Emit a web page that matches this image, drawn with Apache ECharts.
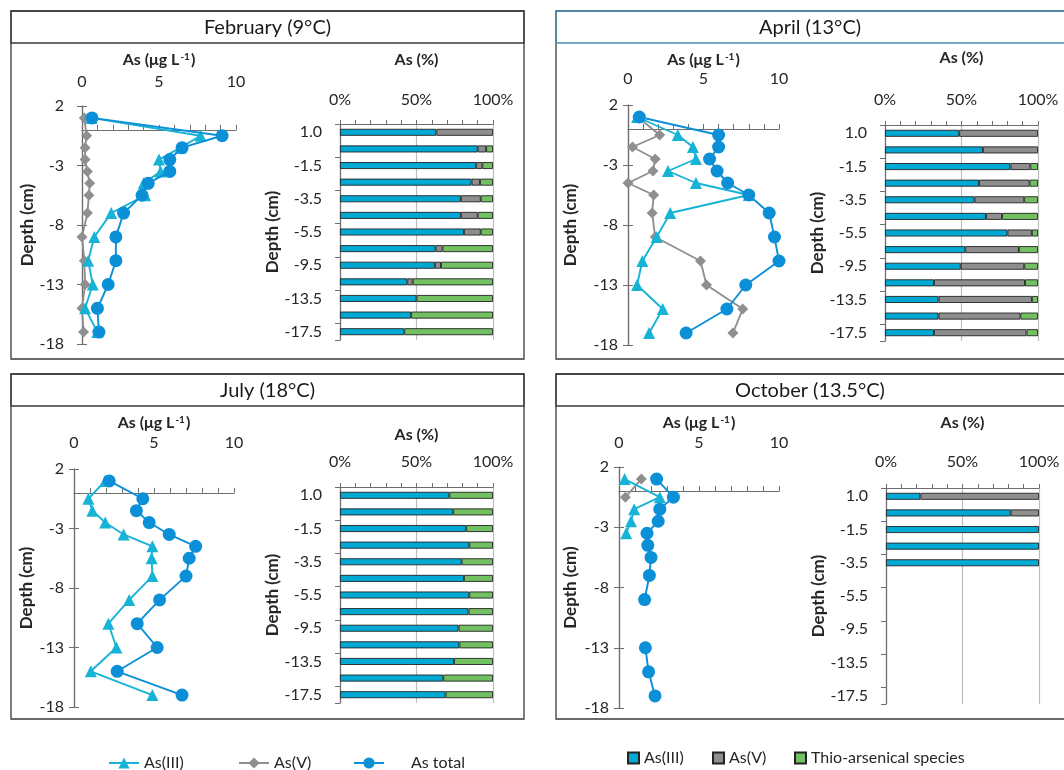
<!DOCTYPE html>
<html>
<head>
<meta charset="utf-8">
<script src="https://cdn.jsdelivr.net/npm/echarts@6/dist/echarts.min.js"></script>
<style>
  html, body { margin: 0; padding: 0; background: #ffffff; }
  #chart { width: 1064px; height: 770px; }
</style>
</head>
<body>
<div id="chart"></div>
<script>
// Sampling depths (cm) of the dissolved-As profiles
const depths = [1, -0.5, -1.5, -2.5, -3.5, -4.5, -5.5, -7, -9, -11, -13, -15, -17];
// Depth classes of the speciation bars
const depthClasses = ['1.0', '-0.5', '-1.5', '-2.5', '-3.5', '-4.5', '-5.5', '-7.5', '-9.5', '-11.5', '-13.5', '-15.5', '-17.5'];
const depthTicks = [-18, -13, -8, -3, 2];
const concTicks = [0, 5, 10];
const pctTicks = [0, 50, 100];

const titles = ['February (9°C)', 'April (13°C)', 'July (18°C)', 'October (13.5°C)'];

// February – concentrations (µg L-1)
const febAsIII  = [0.6, 7.7, 6.4, 5.0, 5.1, 4.0, 4.1, 1.9, 0.8, 0.4, 0.7, 0.2, 1.0];
const febAsV    = [0.15, 0.3, 0.2, 0.2, 0.35, 0.5, 0.45, 0.35, 0.0, 0.15, 0.2, 0.0, 0.1];
const febAsTot  = [0.65, 9.1, 6.5, 5.7, 5.7, 4.3, 3.9, 2.7, 2.2, 2.2, 1.7, 1.0, 1.1];
// February – speciation (%)
const febPctIII  = [63, 90, 89, 86, 79, 79, 81, 62.5, 62, 44, 50, 46.5, 42];
const febPctV    = [37, 5.5, 4, 5.5, 13, 11, 11, 4.5, 4, 3.5, null, null, null];
const febPctThio = [null, 4.5, 7, 8.5, 8, 10, 8, 33, 34, 52.5, 50, 53.5, 58];

// April – concentrations (µg L-1)
const aprAsIII  = [0.6, 3.3, 4.3, 4.5, 2.65, 4.5, 8.0, 2.8, 1.9, 0.95, 0.6, 2.3, 1.4];
const aprAsV    = [0.65, 2.1, 0.3, 1.8, 1.65, 0.0, 1.7, 1.6, 1.8, 4.8, 5.2, 7.6, 6.95];
const aprAsTot  = [0.75, 6.0, 6.0, 5.4, 5.9, 6.6, 8.0, 9.35, 9.7, 10.0, 7.8, 6.55, 3.85];
// April – speciation (%)
const aprPctIII  = [48.5, 64, 82, 61.5, 58.5, 66, 80, 52.5, 49.5, 32, 35, 35, 32];
const aprPctV    = [51.5, 36, 13, 33, 32.5, 10.5, 16, 35, 41.5, 59.5, 61, 53.5, 60.5];
const aprPctThio = [null, null, 5, 5.5, 9, 23.5, 4, 12.5, 9, 8.5, 4, 11.5, 7.5];

// July – concentrations (µg L-1)
const julAsIII  = [1.95, 0.9, 1.15, 1.95, 3.1, 4.9, 4.85, 4.9, 3.45, 2.15, 2.65, 1.05, 4.9];
const julAsTot  = [2.2, 4.3, 3.9, 4.7, 5.95, 7.6, 7.2, 7.0, 5.35, 3.95, 5.2, 2.7, 6.75];
// July – speciation (%)
const julPctIII  = [71.5, 74, 82.5, 84.5, 79.5, 81, 84.5, 84, 77.5, 78, 74.5, 67.5, 69];
const julPctThio = [28.5, 26, 17.5, 15.5, 20.5, 19, 15.5, 16, 22.5, 22, 25.5, 32.5, 31];

// October – concentrations (µg L-1)
const octAsIII  = [0.35, 2.55, 0.95, 0.75, 0.45, null, null, null, null, null, null, null, null];
const octAsV    = [1.4, 0.4, null, null, null, null, null, null, null, null, null, null, null];
const octAsTot  = [2.35, 3.4, 2.55, 2.45, 1.75, 1.8, 2.0, 1.9, 1.6, null, 1.65, 1.85, 2.25];
// October – speciation (%)
const octPctIII  = [22.5, 81.5, 100, 100, 100, null, null, null, null, null, null, null, null];
const octPctV    = [77.5, 18.5, null, null, null, null, null, null, null, null, null, null, null];

const FONT = 'Lato, "Open Sans", "DejaVu Sans", sans-serif';
const TXT = '#262626';
const AXIS = '#6e6e6e';
const C_III_LINE = '#17b3d6';
const C_TOT_LINE = '#0b8fd6';
const C_V_LINE = '#8f8f8f';
const C_III_BAR = '#00a9d4';
const C_V_BAR = '#8e8e8e';
const C_THIO_BAR = '#72c062';

const panels = [
  {
    title: titles[0], conc: { iii: febAsIII, v: febAsV, tot: febAsTot },
    pct: { iii: febPctIII, v: febPctV, thio: febPctThio },
    box: { x: 11, y: 11, w: 513, h: 348, sep: 43 }, titleStroke: '#3a3a3a',
    line: { left: 82, top: 106, width: 154, height: 238, nameGap: 38, labelMargin: 16, yNameGap: 46, yLabelMargin: 18 },
    bar: { left: 340, top: 124, width: 153, height: 216, nameGap: 56, labelMargin: 16, yNameGap: 55 }
  },
  {
    title: titles[1], conc: { iii: aprAsIII, v: aprAsV, tot: aprAsTot },
    pct: { iii: aprPctIII, v: aprPctV, thio: aprPctThio },
    box: { x: 556, y: 11, w: 520, h: 348, sep: 43 }, titleStroke: '#4a8fb5',
    line: { left: 628, top: 105, width: 151, height: 240, nameGap: 37, labelMargin: 18, yNameGap: 49, yLabelMargin: 10 },
    bar: { left: 885, top: 125, width: 153, height: 216, nameGap: 59, labelMargin: 17, yNameGap: 54 }
  },
  {
    title: titles[2], conc: { iii: julAsIII, v: null, tot: julAsTot },
    pct: { iii: julPctIII, v: null, thio: julPctThio },
    box: { x: 11, y: 374, w: 513, h: 345, sep: 406 }, titleStroke: '#3a3a3a',
    line: { left: 74, top: 469, width: 160, height: 238, nameGap: 38, labelMargin: 18, yNameGap: 39, yLabelMargin: 10 },
    bar: { left: 340, top: 487, width: 153, height: 216, nameGap: 44, labelMargin: 17, yNameGap: 55 }
  },
  {
    title: titles[3], conc: { iii: octAsIII, v: octAsV, tot: octAsTot },
    pct: { iii: octPctIII, v: octPctV, thio: null },
    box: { x: 556, y: 374, w: 520, h: 345, sep: 406 }, titleStroke: '#3a3a3a',
    line: { left: 619, top: 467, width: 160, height: 241, nameGap: 36, labelMargin: 16, yNameGap: 40, yLabelMargin: 10 },
    bar: { left: 886, top: 488, width: 153, height: 216, nameGap: 57, labelMargin: 18, yNameGap: 55 }
  }
];

const nameRich = {
  a: { fontSize: 16, fontWeight: 'bold', color: TXT, fontFamily: FONT },
  s: { fontSize: 10, fontWeight: 'bold', color: TXT, fontFamily: FONT, verticalAlign: 'top', padding: [0, 1, 0, 1] }
};

const toPoints = (vals) => depths.map((d, k) => [vals[k] === null ? null : vals[k], d]);

const option = {
  animation: false,
  backgroundColor: '#ffffff',
  textStyle: { fontFamily: FONT },
  grid: [], xAxis: [], yAxis: [], series: [], legend: [], graphic: []
};

panels.forEach((p) => {
  // frame and title strip
  option.graphic.push({
    type: 'rect', silent: true, z: 0,
    shape: { x: p.box.x, y: p.box.y, width: p.box.w, height: p.box.h },
    style: { fill: 'none', stroke: '#3a3a3a', lineWidth: 1.3 }
  });
  option.graphic.push({
    type: 'rect', silent: true, z: 1,
    shape: { x: p.box.x, y: p.box.y, width: p.box.w, height: p.box.sep - p.box.y },
    style: { fill: 'none', stroke: p.titleStroke, lineWidth: 1.3 }
  });
  const cx = p.box.x + (Math.min(p.box.x + p.box.w, 1070) - p.box.x) / 2 - (p.box.w > 515 ? 3 : 0);
  option.graphic.push({
    type: 'text', silent: true, z: 2,
    style: {
      text: p.title, x: cx, y: (p.box.y + p.box.sep) / 2 + 1,
      align: 'center', verticalAlign: 'middle', textAlign: 'center', textVerticalAlign: 'middle',
      fontSize: 20, fontFamily: FONT, fill: '#1a1a1a'
    }
  });

  // ---- concentration profile ----
  const gL = option.grid.length;
  option.grid.push({ left: p.line.left, top: p.line.top, width: p.line.width, height: p.line.height });
  const xL = option.xAxis.length;
  option.xAxis.push({
    gridIndex: gL, type: 'value', position: 'top',
    min: concTicks[0], max: concTicks[concTicks.length - 1], interval: concTicks[1] - concTicks[0],
    axisLine: { show: false, onZero: false }, axisTick: { show: false }, splitLine: { show: false },
    axisLabel: { color: TXT, fontSize: 16, margin: p.line.labelMargin },
    name: '{a|As (μg L}{s|-1}{a|)}', nameLocation: 'middle', nameGap: p.line.nameGap,
    nameTextStyle: { rich: nameRich }
  });
  option.xAxis.push({
    gridIndex: gL, type: 'value', position: 'bottom',
    min: concTicks[0], max: concTicks[concTicks.length - 1], interval: 1,
    axisLine: { show: true, onZero: true, lineStyle: { color: AXIS, width: 1.2 } },
    axisTick: { show: true, inside: true, length: 5, lineStyle: { color: AXIS } },
    axisLabel: { show: false }, splitLine: { show: false }
  });
  const yL = option.yAxis.length;
  option.yAxis.push({
    gridIndex: gL, type: 'value', position: 'left',
    min: depthTicks[0], max: depthTicks[depthTicks.length - 1],
    axisLine: { show: true, onZero: false, lineStyle: { color: AXIS, width: 1.2 } },
    axisTick: { show: true, length: 5, customValues: depthTicks, lineStyle: { color: AXIS } },
    axisLabel: { customValues: depthTicks, color: TXT, fontSize: 16, margin: p.line.yLabelMargin },
    splitLine: { show: false },
    name: 'Depth (cm)', nameLocation: 'middle', nameGap: p.line.yNameGap,
    nameTextStyle: { fontWeight: 'bold', fontSize: 17, color: TXT, fontFamily: FONT }
  });
  option.yAxis.push({
    gridIndex: gL, type: 'value', position: 'right',
    min: depthTicks[0], max: depthTicks[depthTicks.length - 1],
    axisLine: { show: true, onZero: true, lineStyle: { color: AXIS, width: 1.2 } },
    axisTick: { show: true, length: 5, customValues: depthTicks, lineStyle: { color: AXIS } },
    axisLabel: { show: false }, splitLine: { show: false }
  });

  if (p.conc.v) {
    option.series.push({
      type: 'line', name: 'As(V)', xAxisIndex: xL, yAxisIndex: yL, data: toPoints(p.conc.v),
      symbol: 'diamond', symbolSize: 11, z: 3,
      lineStyle: { color: C_V_LINE, width: 1.9 }, itemStyle: { color: C_V_LINE }
    });
  }
  option.series.push({
    type: 'line', name: 'As(III)', xAxisIndex: xL, yAxisIndex: yL, data: toPoints(p.conc.iii),
    symbol: 'triangle', symbolSize: 12, z: 4,
    lineStyle: { color: C_III_LINE, width: 1.9 }, itemStyle: { color: C_III_LINE }
  });
  option.series.push({
    type: 'line', name: 'As total', xAxisIndex: xL, yAxisIndex: yL, data: toPoints(p.conc.tot),
    symbol: 'circle', symbolSize: 13, z: 5,
    lineStyle: { color: C_TOT_LINE, width: 1.9 }, itemStyle: { color: C_TOT_LINE }
  });

  // ---- speciation bars ----
  const gB = option.grid.length;
  option.grid.push({ left: p.bar.left, top: p.bar.top, width: p.bar.width, height: p.bar.height });
  const xB = option.xAxis.length;
  option.xAxis.push({
    gridIndex: gB, type: 'value', position: 'top',
    min: pctTicks[0], max: pctTicks[pctTicks.length - 1], interval: pctTicks[1] - pctTicks[0],
    axisLine: { show: true, onZero: false, lineStyle: { color: AXIS, width: 1.2 } },
    axisTick: { show: true, length: 4, lineStyle: { color: AXIS } },
    minorTick: { show: true, splitNumber: 5, length: 4, lineStyle: { color: AXIS } },
    axisLabel: { color: TXT, fontSize: 16, margin: p.bar.labelMargin, formatter: '{value}%' },
    splitLine: { show: true, lineStyle: { color: '#bdbdbd', width: 1.2 } },
    name: 'As (%)', nameLocation: 'middle', nameGap: p.bar.nameGap,
    nameTextStyle: { fontWeight: 'bold', fontSize: 16, color: TXT, fontFamily: FONT }
  });
  const yB = option.yAxis.length;
  option.yAxis.push({
    gridIndex: gB, type: 'category', inverse: true, data: depthClasses,
    axisLine: { show: true, lineStyle: { color: AXIS, width: 1.2 } },
    axisTick: { show: true, length: 5, lineStyle: { color: AXIS } },
    axisLabel: { interval: 1, color: TXT, fontSize: 16, margin: 18 },
    splitLine: { show: false },
    name: 'Depth (cm)', nameLocation: 'middle', nameGap: p.bar.yNameGap,
    nameTextStyle: { fontWeight: 'bold', fontSize: 17, color: TXT, fontFamily: FONT }
  });
  const stackId = 'pct' + gB;
  [['pctIII', p.pct.iii, C_III_BAR], ['pctV', p.pct.v, C_V_BAR], ['pctThio', p.pct.thio, C_THIO_BAR]]
    .forEach(([name, vals, color]) => {
      if (!vals) return;
      option.series.push({
        type: 'bar', name, stack: stackId, xAxisIndex: xB, yAxisIndex: yB, data: vals,
        barWidth: 7, z: 3,
        itemStyle: { color, borderColor: '#222222', borderWidth: 0.9 }
      });
    });
});

// legends
const legendText = { fontSize: 16, color: TXT, fontFamily: FONT };
const barLabels = { pctIII: 'As(III)', pctV: 'As(V)', pctThio: 'Thio-arsenical species' };
[['As(III)', 103], ['As(V)', 233], ['As total', 348]].forEach(([n, left]) => {
  option.legend.push({
    data: [n], left, top: 750, selectedMode: false, itemWidth: 30, itemHeight: 14,
    itemGap: 0, textStyle: Object.assign({ padding: [0, 0, 0, n === 'As total' ? 22 : 0] }, legendText)
  });
});
[['pctIII', 622], ['pctV', 707], ['pctThio', 789]].forEach(([n, left]) => {
  option.legend.push({
    data: [n], left, top: 745, selectedMode: false, icon: 'rect', itemWidth: 11, itemHeight: 11,
    itemGap: 0, formatter: (name) => barLabels[name], textStyle: legendText
  });
});

const chart = echarts.init(document.getElementById('chart'), null, { renderer: 'canvas' });
chart.setOption(option);
</script>
</body>
</html>
